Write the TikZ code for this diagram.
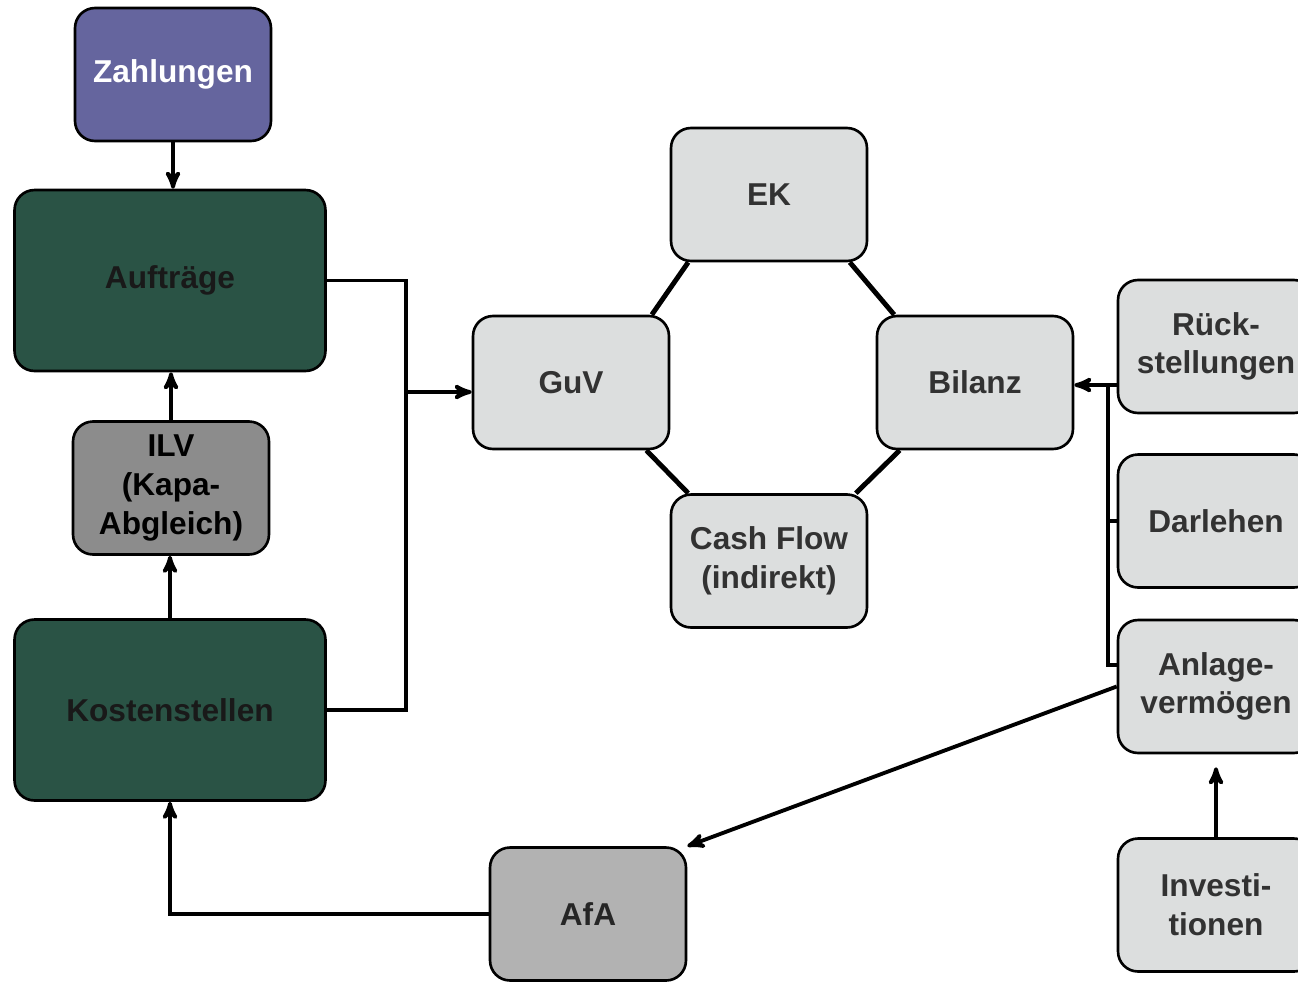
\documentclass[tikz,border=0pt]{standalone}
\usepackage{fontspec}
\setmainfont{Liberation Sans}
\usetikzlibrary{arrows, positioning}
\definecolor{zahlblue}{RGB}{101,101,158}
\definecolor{kstgreen}{RGB}{42,83,69}
\definecolor{ilvgray}{RGB}{140,140,140}
\definecolor{afagray}{RGB}{178,178,178}
\definecolor{boxgray}{RGB}{220,222,222}
\definecolor{txtgray}{RGB}{50,50,50}
\tikzset{
	>=stealth',
	every node/.style={font=\fontsize{18}{22}\selectfont\bfseries, align=center},
	box/.style={draw, line width=1.5pt, rounded corners=0.4cm, minimum width=3.92cm, minimum height=2.66cm, inner sep=2pt},
	bigbox/.style={box, fill=kstgreen, text=black!90, minimum width=6.22cm, minimum height=3.62cm},
	lightbox/.style={box, fill=boxgray, text=txtgray},
	link/.style={line width=2.2pt},
	ring/.style={line width=2.8pt}}

\begin{document}
\begin{tikzpicture}[x=0.02cm, y=-0.02cm]
		\useasboundingbox (0,0) rectangle (1298,981);

		% left column
		\node[box, fill=zahlblue, text=white] (zahl) at (173,74.5) {Zahlungen};
		\node[bigbox] (auf) at (170,280.5) {Aufträge};
		\node[box, fill=ilvgray, text=black] (ilv) at (171,488) {ILV\\(Kapa-\\Abgleich)};
		\node[bigbox] (kst) at (170,710) {Kostenstellen};
		\node[box, fill=afagray, text=black!85] (afa) at (588,914) {AfA};

		% ring
		\node[lightbox] (ek) at (769,194.5) {EK};
		\node[lightbox] (guv) at (571,382.5) {GuV};
		\node[lightbox] (bil) at (975,382.5) {Bilanz};
		\node[lightbox] (cf) at (769,561) {Cash Flow\\(indirekt)};

		% right column
		\node[lightbox] (rueck) at (1216,346.5) {Rück-\\stellungen};
		\node[lightbox] (darl) at (1216,521) {Darlehen};
		\node[lightbox] (anl) at (1216,686.5) {Anlage-\\vermögen};
		\node[lightbox] (inv) at (1216,905) {Investi-\\tionen};

		\coordinate (jl) at (406,392);
		\coordinate (jr) at (1108,385);

		\draw[link, ->] (zahl.south) -- (zahl.south |- auf.north);
		\draw[link, ->] (kst.north) -- (kst.north |- ilv.south);
		\draw[link, ->] (ilv.north) -- (ilv.north |- auf.south);
		\draw[link] (auf.east) -| (jl) |- (kst.east);
		\draw[link, ->] (jl) -- (guv.west |- jl);

		\draw[ring]
		(ek.220) -- (guv.40)
		(ek.320) -- (bil.140)
		(guv.318) -- (cf.140)
		(bil.222) -- (cf.38);

		\draw[link] (rueck.201) -- (jr |- rueck.201) -- (jr |- anl.168) -- (anl.168);
		\draw[link] (darl.west) -- (jr |- darl.west);
		\draw[link, ->] (jr) -- (bil.east |- jr);
		\draw[link, ->] (anl.west) -- (afa.north east);
		\draw[link, ->, shorten >=0.26cm] (inv.north) -- (anl.south);
		\draw[link, ->] (afa.west) -| (kst.south);
	\end{tikzpicture}
\end{document}
